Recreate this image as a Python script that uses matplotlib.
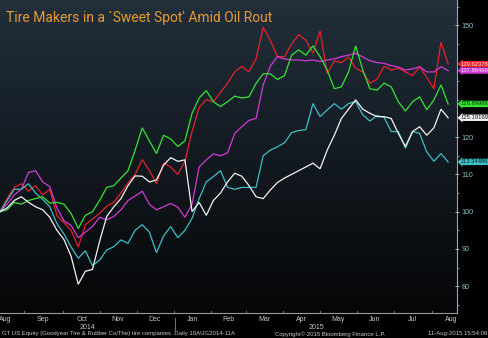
import numpy as np
import matplotlib
matplotlib.use("Agg")
import matplotlib.pyplot as plt
from matplotlib import font_manager
from matplotlib.colors import LinearSegmentedColormap
from matplotlib.transforms import blended_transform_factory

# Rebased prices (10 Aug 2014 = 100), sampled every 4 trading days
STEP_DAYS = 4

red_vals = [100, 103.5, 106.5, 107.5, 105.5, 107, 104.5, 106, 99, 97,
            95, 90.5, 96.5, 98, 99.5, 101.5, 102.5, 105, 107.7, 110,
            114, 111, 107.5, 113, 112, 110, 113.5, 121.5, 128, 130,
            129.5, 132, 134.5, 137.5, 139, 137.5, 141, 149.5, 146, 141.6,
            141.6, 145, 147.5, 146, 142.5, 148.5, 137, 140.5, 140, 141.5,
            138.5, 137.5, 134.5, 135.5, 139, 138, 138.5, 137.5, 136.5, 138.9,
            136, 133, 145.5, 139.62378]

green_vals = [100, 100.5, 102.5, 102, 103, 103.5, 104, 102.3, 102.5, 102,
              99.5, 95.5, 99, 100, 103, 106.5, 107, 109, 111, 116.5,
              122.5, 119, 115.6, 120.5, 119.5, 117.5, 119, 126.4, 130.5, 132.5,
              129.5, 128.2, 129.5, 131, 130.5, 130.8, 134.4, 137, 137, 135.5,
              136.5, 142, 143.4, 142, 144.5, 141.6, 138, 133, 133.5, 137.5,
              144.5, 138, 133, 132.6, 134.5, 133.5, 129.5, 127, 129.5, 130.8,
              127.3, 130, 134, 128.89986]

magenta_vals = [100, 102, 104.5, 106, 110.5, 111, 108, 106.7, 101, 97.5,
                96.3, 93, 94.5, 96, 98.5, 97.8, 98.7, 100.5, 103, 104.2,
                105.5, 102, 100.5, 101.3, 102.2, 101.2, 98.5, 102, 112, 113.9,
                115.5, 115, 115.8, 121, 122.8, 124.5, 125, 134, 139, 141.6,
                141, 140.7, 140.7, 140.5, 140.7, 140.3, 140.7, 141, 141.6, 142,
                142.5, 141.5, 140.5, 140, 139.8, 139.2, 138.8, 138, 138.3, 138.9,
                137.5, 137.5, 138.9, 137.86499]

white_vals = [100, 101, 103, 104, 102.5, 101.3, 100.5, 98.5, 95, 92.5,
              88, 80.5, 84, 84.5, 92, 98.7, 101.3, 103.5, 107, 109.6,
              109.5, 108, 108.5, 112.5, 114.5, 113.5, 113.9, 100, 102.5, 99,
              103, 105, 108, 110.3, 109.5, 107, 104, 103.5, 105.8, 107.8,
              109, 110, 111, 112, 113, 111.5, 116.5, 120.5, 125, 127.5,
              130, 127.5, 126.4, 125.5, 125.5, 125, 121, 117.5, 121.5, 122.8,
              120.5, 122.5, 127.5, 125.19169]

cyan_vals = [100, 103, 106, 106, 107.5, 105, 103.3, 101.3, 96.8, 94,
             90.5, 87.5, 89.5, 85.5, 87, 89.7, 90.6, 92.4, 91.5, 95,
             96.5, 94.5, 89, 93.5, 96, 93, 95, 98.2, 103.5, 108,
             109.4, 111, 106.5, 106, 106.5, 106.5, 106.5, 115, 116.5, 117.4,
             118.5, 121.2, 121.8, 122, 129, 125.5, 127.3, 129, 127.5, 129,
             129.5, 126, 124.3, 125.8, 125.3, 121.5, 121.5, 117, 121.5, 121,
             116, 113.5, 115.6, 113.34486]

series = [
    (red_vals, "#e8212b", "#ffe0e0"),
    (magenta_vals, "#d43ad8", "#fbe6fb"),
    (cyan_vals, "#3dbfc6", "#062426"),
    (green_vals, "#35e433", "#0b2a0b"),
    (white_vals, "#f2f2f2", "#111111"),
]

month_labels = ["Aug", "Sep", "Oct", "Nov", "Dec", "Jan", "Feb", "Mar",
                "Apr", "May", "Jun", "Jul", "Aug"]
year_labels = ["2014", "2015"]
y_tick_values = [80, 90, 100, 110, 120, 150]

title = "Tire Makers in a `Sweet Spot' Amid Oil Rout"
footer_left = "GT US Equity (Goodyear Tire & Rubber Co/The) tire companies  Daily 10AUG2014-11A"
footer_mid = "Copyright\u00a9 2015 Bloomberg Finance L.P."
footer_right = "11-Aug-2015 15:54:09"


def pick_family(names):
    for n in names:
        try:
            font_manager.findfont(n, fallback_to_default=False)
            return n
        except Exception:
            continue
    return "DejaVu Sans"


title_family = pick_family(["Liberation Sans Narrow", "Roboto", "Lato", "DejaVu Sans"])
small_family = pick_family(["Liberation Sans Narrow", "Liberation Sans", "DejaVu Sans"])

W, H = 488, 338
fig = plt.figure(figsize=(W / 100, H / 100), dpi=100, facecolor="black")
ax_left, ax_right, ax_bottom = 0, 457, 313
ax = fig.add_axes([ax_left / W, (H - ax_bottom) / H, ax_right / W, ax_bottom / H])
ax.set_facecolor("black")

XMAX = 257.0
YMIN, YMAX = 72.8, 156.8
ax.set_xlim(0, XMAX)
ax.set_ylim(YMIN, YMAX)

# vertical background gradient
grad_cmap = LinearSegmentedColormap.from_list("bg", ["#050607", "#131a21", "#22303c"])
grad = np.linspace(0, 1, 256).reshape(-1, 1)
ax.imshow(grad, extent=(0, XMAX, YMIN, YMAX), origin="lower", aspect="auto",
          cmap=grad_cmap, zorder=0, interpolation="bicubic")

for vals, color, _ in series:
    days = np.arange(len(vals)) * STEP_DAYS
    ax.plot(days, vals, color=color, lw=0.9, zorder=3, solid_joinstyle="miter")

# axes styling
for s in ("top", "left"):
    ax.spines[s].set_visible(False)
ax.spines["right"].set_color("#7fb3b5")
ax.spines["right"].set_linewidth(0.8)
ax.spines["bottom"].set_color("#9a9a9a")
ax.spines["bottom"].set_linewidth(0.8)

ax.yaxis.tick_right()
ax.set_yticks(y_tick_values)
ax.set_yticklabels([str(v) for v in y_tick_values])
ax.set_yticks(np.arange(75, 156, 5), minor=True)
ax.tick_params(axis="y", which="major", direction="inout", length=3, width=0.7,
               color="#8cc6c8", labelcolor="#8cc6c8", labelsize=5.2, pad=1.5)
ax.tick_params(axis="y", which="minor", direction="out", length=1.5, width=0.6,
               color="#7fb3b5")
for lbl in ax.get_yticklabels():
    lbl.set_family(small_family)

# month labels along the bottom (trading-day scale, labels mid-month)
px_per_day = ax_right / XMAX
month_px = [5, 43, 82, 118, 155, 193, 228, 264, 301, 338, 375, 412, 451]
month_pos = [p / px_per_day for p in month_px]
ax.set_xticks([])
trans_x = blended_transform_factory(ax.transData, ax.transAxes)
for lbl, pos in zip(month_labels, month_pos):
    ax.text(pos, -6.5 / ax_bottom, lbl, transform=trans_x, ha="center", va="center",
            fontsize=5, color="#c8c8c8", family=small_family, clip_on=False)
# month boundary ticks
for a, b in zip(month_pos[:-1], month_pos[1:]):
    ax.plot([(a + b) / 2] * 2, [0, 2 / ax_bottom], transform=trans_x, color="#8a8a8a",
            lw=0.6, clip_on=False, zorder=4)

year_sep = 175 / px_per_day
ax.plot([year_sep] * 2, [-5 / ax_bottom, -17 / ax_bottom], transform=trans_x,
        color="#8a8a8a", lw=0.6, clip_on=False)
ax.text(year_sep / 2, -14.5 / ax_bottom, year_labels[0], transform=trans_x,
        ha="center", va="center", fontsize=5, color="#c8c8c8", family=small_family)
ax.text((year_sep + XMAX) / 2, -14.5 / ax_bottom, year_labels[1], transform=trans_x,
        ha="center", va="center", fontsize=5, color="#c8c8c8", family=small_family)

# last-value tags on the right axis
trans_y = blended_transform_factory(ax.transAxes, ax.transData)
for vals, color, tcolor in series:
    last = vals[-1]
    ax.text(1.0 + 4 / ax_right, last, f"{last:.5f}", transform=trans_y,
            ha="left", va="center", fontsize=4.2, color=tcolor, family=small_family,
            clip_on=False, zorder=6,
            bbox=dict(boxstyle="larrow,pad=0.12", fc=color, ec="none"))

# title
fig.text(6 / W, 1 - 18 / H, title, ha="left", va="center", fontsize=10,
         color="#e89a2e", family=title_family)

# footer
fig.text(2 / W, 1 - 334 / H, footer_left, ha="left", va="center", fontsize=4.3,
         color="#c8c8c8", family=small_family)
fig.text(330 / W, 1 - 334 / H, footer_mid, ha="center", va="center", fontsize=4.3,
         color="#c8c8c8", family=small_family)
fig.text(487 / W, 1 - 334 / H, footer_right, ha="right", va="center", fontsize=4.3,
         color="#c8c8c8", family=small_family)

fig.savefig("out.png", dpi=100, facecolor="black")
